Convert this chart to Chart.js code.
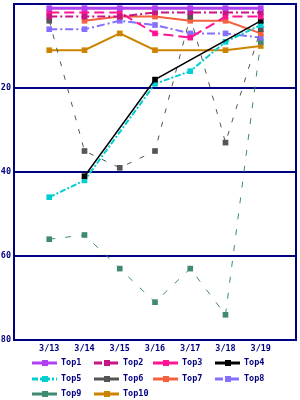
<!DOCTYPE html>
<html lang="en">
  <head>
    <meta charset="UTF-8" />
    <title>Top 10 Rank Chart</title>
    <style>
      body {
        margin: 0;
        padding: 0;
        background-color: #fff;
      }
      canvas {
        display: block;
      }
    </style>
  </head>
  <body>
    <canvas id="rankChart" width="300" height="400"></canvas>

    <script src="https://cdn.jsdelivr.net/npm/chart.js"></script>
    <script>
      // ranks per day (lower = better), null = no entry that day
      const dates = ["3/13", "3/14", "3/15", "3/16", "3/17", "3/18", "3/19"];
      const top1 = [1, 1, 1, 1, 1, 1, 1];
      const top2 = [3, 3, 3, 2, 2, 2, 2];
      const top3 = [2, 2, 2, 7, 8, 3, 3];
      const top4 = [null, 41, null, 18, null, null, 4];
      const top5 = [46, 42, null, 19, 16, 9, 5];
      const top6 = [4, 35, 39, 35, 3, 33, 6];
      const top7 = [null, 4, 3, 3, 4, 4, 7];
      const top8 = [6, 6, 4, 5, 7, 7, 8];
      const top9 = [56, 55, 63, 71, 63, 74, 9];
      const top10 = [11, 11, 7, 11, null, 11, 10];

      const seriesNames = ["Top1", "Top2", "Top3", "Top4", "Top5", "Top6", "Top7", "Top8", "Top9", "Top10"];
      const seriesValues = [top1, top2, top3, top4, top5, top6, top7, top8, top9, top10];

      const navy = "#000080";
      const fontFamily = "'DejaVu Sans Mono', monospace";
      const fontSize = 8.5;

      const styles = [
        { color: "#b040f0", width: 3, dash: [] },
        { color: "#c71585", width: 2, dash: [8, 3, 2, 3] },
        { color: "#ff1493", width: 2, dash: [10, 5] },
        { color: "#000000", width: 1.5, dash: [] },
        { color: "#00ced1", width: 2, dash: [6, 2, 2, 2] },
        { color: "#555555", width: 1, dash: [5, 9] },
        { color: "#f5603f", width: 2, dash: [] },
        { color: "#8470ff", width: 2, dash: [8, 3, 2, 3] },
        { color: "#3f8a70", width: 1, dash: [6, 10] },
        { color: "#cc8400", width: 2, dash: [] },
      ];

      const datasets = seriesNames.map((name, i) => ({
        label: name,
        data: seriesValues[i].map((v, j) => ({ x: j + 1, y: v })),
        borderColor: styles[i].color,
        backgroundColor: styles[i].color,
        borderWidth: styles[i].width,
        borderDash: styles[i].dash,
        pointStyle: "rect",
        pointRadius: 4,
        pointBorderWidth: 0,
        spanGaps: true,
        tension: 0,
      }));

      // navy box around the plot
      const framePlugin = {
        id: "frame",
        beforeDatasetsDraw(chart) {
          const { ctx, chartArea: a } = chart;
          ctx.save();
          ctx.strokeStyle = navy;
          ctx.lineWidth = 2;
          ctx.strokeRect(a.left, a.top, a.right - a.left, a.bottom - a.top);
          ctx.restore();
        },
      };

      // legend in fixed columns, like the original
      const legendCols = [32, 94, 153, 215];
      const legendRows = [363, 379, 394];
      const legendPlugin = {
        id: "gridLegend",
        afterDraw(chart) {
          const ctx = chart.ctx;
          ctx.save();
          chart.data.datasets.forEach((ds, i) => {
            const x = legendCols[i % 4];
            const y = legendRows[Math.floor(i / 4)];
            ctx.strokeStyle = ds.borderColor;
            ctx.lineWidth = 3;
            ctx.setLineDash(ds.borderWidth > 1 ? ds.borderDash : []);
            ctx.beginPath();
            ctx.moveTo(x, y);
            ctx.lineTo(x + 25, y);
            ctx.stroke();
            ctx.setLineDash([]);
            ctx.fillStyle = ds.borderColor;
            ctx.fillRect(x + 10, y - 3, 6, 6);
            ctx.fillStyle = navy;
            ctx.font = "bold " + fontSize + "px " + fontFamily;
            ctx.textBaseline = "middle";
            ctx.fillText(ds.label, x + 29, y);
          });
          ctx.restore();
        },
      };

      const tickFont = { family: fontFamily, size: fontSize, weight: "bold" };

      new Chart(document.getElementById("rankChart"), {
        type: "line",
        data: { datasets: datasets },
        options: {
          responsive: false,
          animation: false,
          layout: { padding: { top: 4, right: 2, bottom: 46, left: 0 } },
          scales: {
            x: {
              type: "linear",
              min: 0,
              max: 8,
              grid: { display: false, drawTicks: false },
              border: { display: false },
              ticks: {
                stepSize: 1,
                autoSkip: false,
                maxRotation: 0,
                color: navy,
                font: tickFont,
                padding: 4,
                callback: (v) => dates[v - 1] || null,
              },
              afterFit: (s) => {
                s.height = 14;
                s.paddingLeft = 0;
                s.paddingRight = 0;
              },
            },
            y: {
              reverse: true,
              min: 0,
              max: 80,
              grid: { color: navy, lineWidth: 2, drawTicks: false },
              border: { display: false },
              ticks: {
                stepSize: 20,
                color: navy,
                font: tickFont,
                padding: 3,
                callback: (v) => (v === 0 ? null : v),
              },
              afterFit: (s) => {
                s.width = 14;
                s.paddingTop = 0;
                s.paddingBottom = 0;
              },
            },
          },
          plugins: {
            legend: { display: false },
            tooltip: { enabled: false },
          },
        },
        plugins: [framePlugin, legendPlugin],
      });
    </script>
  </body>
</html>
